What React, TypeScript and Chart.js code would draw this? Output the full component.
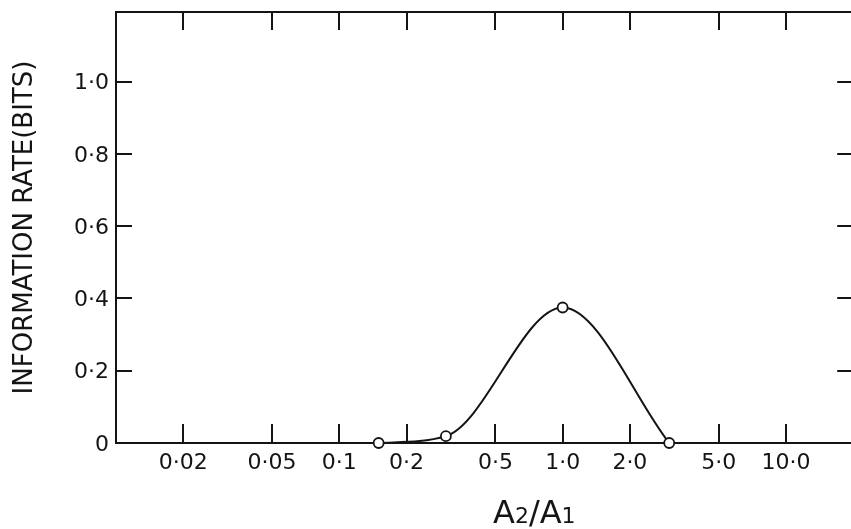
import React, { useEffect, useRef } from 'react';
import { Chart, registerables } from 'chart.js';

Chart.register(...registerables);

// Data
const amplitudeRatios = [0.15, 0.3, 1.0, 3.0];
const informationRates = [0, 0.019, 0.375, 0];

const xTickValues = [0.02, 0.05, 0.1, 0.2, 0.5, 1, 2, 5, 10];
const xTickLabels = ['0·02', '0·05', '0·1', '0·2', '0·5', '1·0', '2·0', '5·0', '10·0'];
const yTickValues = [0, 0.2, 0.4, 0.6, 0.8, 1.0];
const yTickLabels = ['0', '0·2', '0·4', '0·6', '0·8', '1·0'];

const yAxisTitle = 'INFORMATION RATE(BITS)';

const X_MIN = 0.01;
const X_MAX = 20;
const Y_MIN = 0;
const Y_MAX = 1.193;

const INK = '#141414';
const FONT = "'DejaVu Sans', sans-serif";

const noPad = (s: any) => {
  s.paddingTop = 0;
  s.paddingBottom = 0;
  s.paddingLeft = 0;
  s.paddingRight = 0;
};

export default function App() {
  const canvasRef = useRef<HTMLCanvasElement | null>(null);

  useEffect(() => {
    const canvas = canvasRef.current;
    if (!canvas) return;

    const xTicks = (s: any) => {
      s.ticks = xTickValues.map((v) => ({ value: v }));
    };
    const yTicks = (s: any) => {
      s.ticks = yTickValues.map((v) => ({ value: v }));
    };

    const chart = new Chart(canvas, {
      type: 'line',
      data: {
        datasets: [
          {
            data: amplitudeRatios.map((x, i) => ({ x, y: informationRates[i] })),
            borderColor: INK,
            borderWidth: 2,
            cubicInterpolationMode: 'monotone',
            pointRadius: 5,
            pointBorderWidth: 1.8,
            pointBackgroundColor: '#ffffff',
            pointBorderColor: INK,
            fill: false,
            clip: false as any,
          },
        ],
      },
      options: {
        responsive: false,
        animation: false,
        events: [],
        layout: { padding: 0 },
        plugins: {
          legend: { display: false },
          tooltip: { enabled: false },
          title: { display: false },
        },
        scales: {
          x: {
            type: 'logarithmic',
            position: 'bottom',
            min: X_MIN,
            max: X_MAX,
            afterBuildTicks: xTicks,
            afterFit: (s: any) => {
              s.height = 86;
              noPad(s);
            },
            ticks: {
              autoSkip: false,
              maxRotation: 0,
              minRotation: 0,
              padding: 26,
              color: INK,
              font: { family: FONT, size: 22 },
              callback: (v: any) => {
                const i = xTickValues.indexOf(Number(v));
                return i >= 0 ? xTickLabels[i] : '';
              },
            },
            grid: {
              drawOnChartArea: false,
              drawTicks: true,
              tickLength: -19,
              lineWidth: 2,
              tickWidth: 2,
              color: INK,
              tickColor: INK,
            },
            border: { display: true, width: 2, color: INK },
          },
          xTop: {
            type: 'logarithmic',
            position: 'top',
            min: X_MIN,
            max: X_MAX,
            afterBuildTicks: xTicks,
            afterFit: (s: any) => {
              s.height = 12;
              noPad(s);
            },
            ticks: { display: false, autoSkip: false },
            grid: {
              drawOnChartArea: false,
              drawTicks: true,
              tickLength: -18,
              lineWidth: 2,
              tickWidth: 2,
              color: INK,
              tickColor: INK,
            },
            border: { display: true, width: 2, color: INK },
          },
          y: {
            type: 'linear',
            position: 'left',
            min: Y_MIN,
            max: Y_MAX,
            afterBuildTicks: yTicks,
            afterFit: (s: any) => {
              s.width = 116;
              noPad(s);
            },
            ticks: {
              autoSkip: false,
              padding: 23,
              labelOffset: 2,
              color: INK,
              font: { family: FONT, size: 22 },
              callback: (v: any) => {
                const i = yTickValues.indexOf(Number(v));
                return i >= 0 ? yTickLabels[i] : '';
              },
            },
            title: {
              display: true,
              text: yAxisTitle,
              color: INK,
              font: { family: FONT, size: 26 },
              padding: { top: 10, bottom: 0 },
            },
            grid: {
              drawOnChartArea: false,
              drawTicks: true,
              tickLength: -16,
              lineWidth: 2,
              tickWidth: 2,
              color: INK,
              tickColor: INK,
            },
            border: { display: true, width: 2, color: INK },
          },
          yRight: {
            type: 'linear',
            position: 'right',
            min: Y_MIN,
            max: Y_MAX,
            afterBuildTicks: yTicks,
            afterFit: (s: any) => {
              s.width = 4;
              noPad(s);
            },
            ticks: { display: false, autoSkip: false },
            grid: {
              drawOnChartArea: false,
              drawTicks: true,
              tickLength: -16,
              lineWidth: 2,
              tickWidth: 2,
              color: INK,
              tickColor: INK,
            },
            border: { display: true, width: 2, color: INK },
          },
        },
      } as any,
    });

    return () => {
      chart.destroy();
    };
  }, []);

  return (
    <div
      style={{
        position: 'fixed',
        left: 0,
        top: 0,
        width: 851,
        height: 529,
        overflow: 'hidden',
        background: '#ffffff',
      }}
    >
      <canvas ref={canvasRef} width={860} height={529} style={{ display: 'block' }} />
      <div
        style={{
          position: 'absolute',
          left: 493,
          top: 495.6,
          fontFamily: FONT,
          fontSize: 32,
          lineHeight: '32px',
          color: INK,
          whiteSpace: 'nowrap',
        }}
      >
        A<span style={{ fontSize: 22 }}>2</span>/A<span style={{ fontSize: 22 }}>1</span>
      </div>
    </div>
  );
}
